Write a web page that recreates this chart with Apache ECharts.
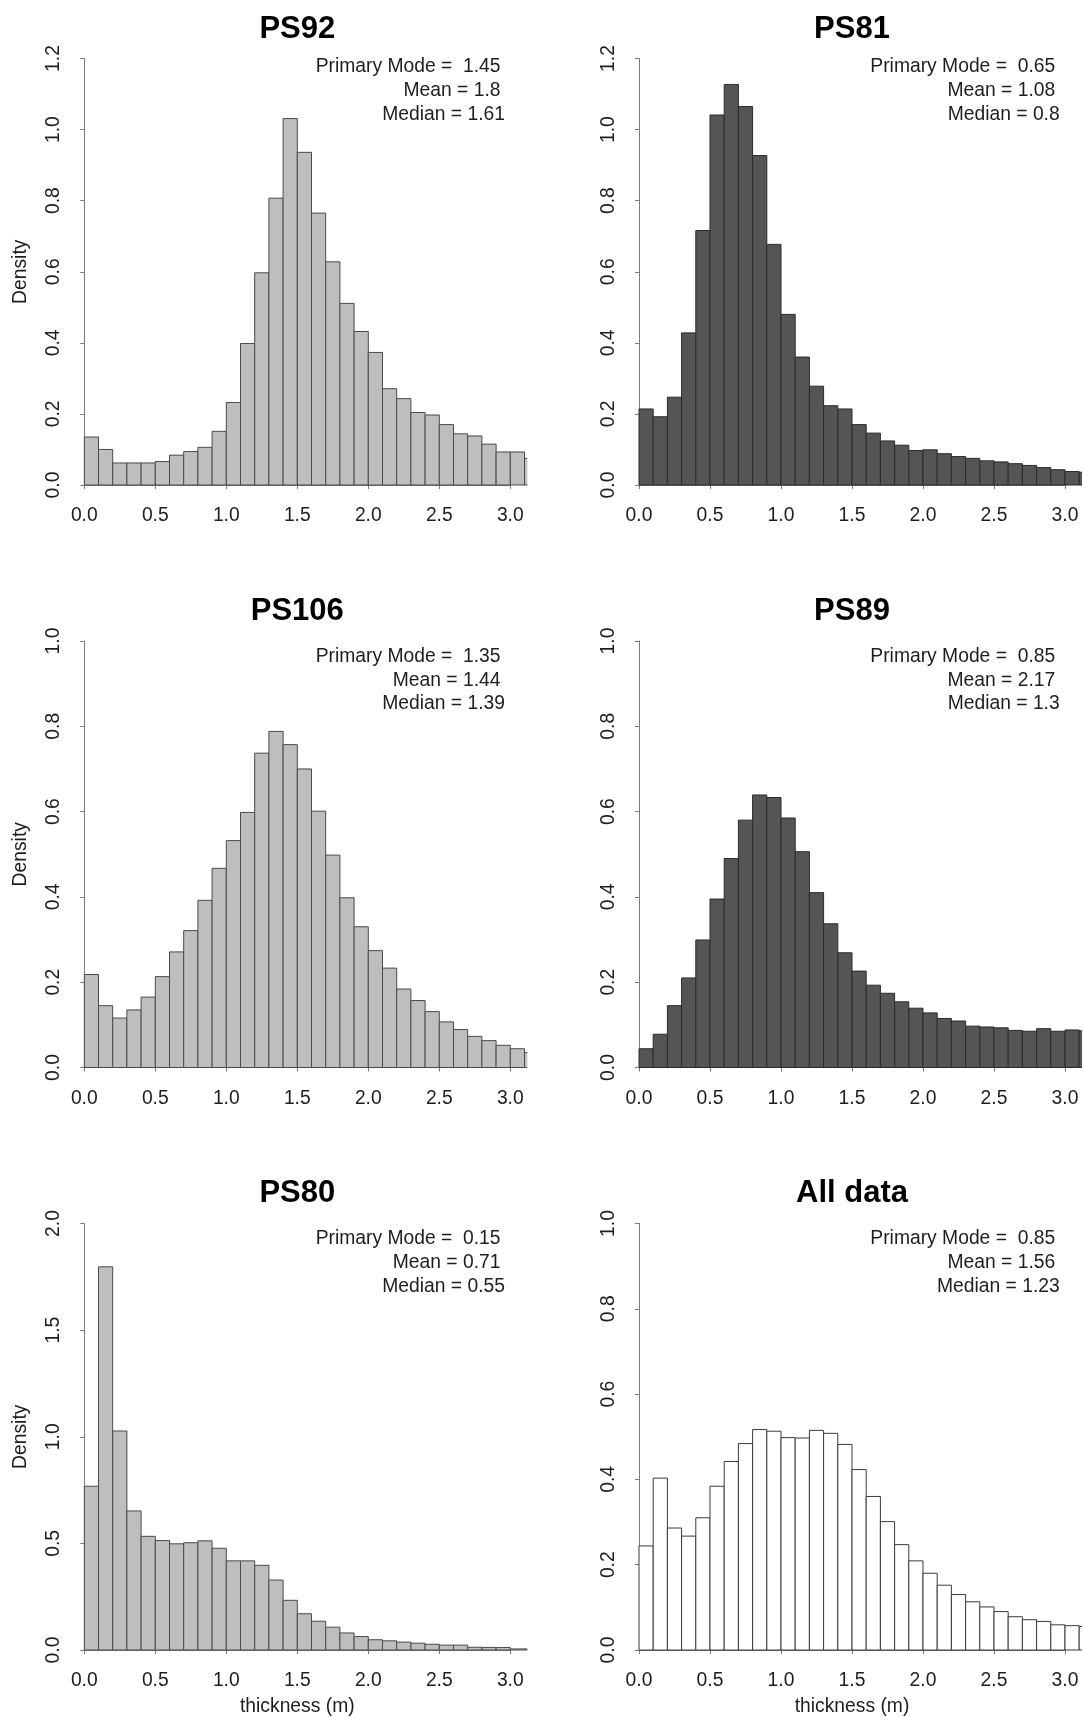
<!DOCTYPE html>
<html>
<head>
<meta charset="utf-8">
<script src="https://cdn.jsdelivr.net/npm/echarts@6/dist/echarts.min.js"></script>
<style>
html,body{margin:0;padding:0;background:#ffffff;}
#chart{width:1084px;height:1717px;}
</style>
</head>
<body>
<div id="chart"></div>
<script>
// ---------------- data ----------------
const panelTitles  = ['PS92', 'PS81', 'PS106', 'PS89', 'PS80', 'All data'];
const primaryModes = ['1.45', '0.65', '1.35', '0.85', '0.15', '0.85'];
const meanValues   = ['1.8', '1.08', '1.44', '2.17', '0.71', '1.56'];
const medianValues = ['1.61', '0.8', '1.39', '1.3', '0.55', '1.23'];

// histogram bin edges (thickness, m)
const binEdges = [0.0, 0.1, 0.2, 0.3, 0.4, 0.5, 0.6, 0.7, 0.8, 0.9,
                  1.0, 1.1, 1.2, 1.3, 1.4, 1.5, 1.6, 1.7, 1.8, 1.9,
                  2.0, 2.1, 2.2, 2.3, 2.4, 2.5, 2.6, 2.7, 2.8, 2.9,
                  3.0, 3.1, 3.2];

// densities per bin
const densityPS92 = [0.135, 0.100, 0.062, 0.062, 0.062, 0.066, 0.084, 0.094, 0.106, 0.151,
                     0.232, 0.398, 0.597, 0.807, 1.031, 0.936, 0.765, 0.628, 0.511, 0.432,
                     0.373, 0.271, 0.243, 0.204, 0.197, 0.170, 0.144, 0.138, 0.115, 0.093,
                     0.093, 0.075];
const densityPS81 = [0.214, 0.192, 0.247, 0.428, 0.716, 1.041, 1.127, 1.065, 0.927, 0.677,
                     0.480, 0.360, 0.278, 0.223, 0.214, 0.170, 0.146, 0.124, 0.112, 0.097,
                     0.099, 0.088, 0.080, 0.075, 0.068, 0.065, 0.060, 0.055, 0.049, 0.043,
                     0.038, 0.036];
const densityPS106 = [0.218, 0.145, 0.116, 0.135, 0.165, 0.213, 0.271, 0.321, 0.392, 0.467,
                      0.532, 0.598, 0.737, 0.788, 0.757, 0.700, 0.601, 0.498, 0.398, 0.330,
                      0.274, 0.233, 0.184, 0.157, 0.131, 0.107, 0.089, 0.073, 0.063, 0.052,
                      0.044, 0.035];
const densityPS89 = [0.044, 0.078, 0.145, 0.210, 0.299, 0.395, 0.490, 0.580, 0.639, 0.633,
                     0.585, 0.506, 0.410, 0.337, 0.269, 0.226, 0.193, 0.174, 0.154, 0.139,
                     0.128, 0.115, 0.109, 0.097, 0.095, 0.093, 0.087, 0.085, 0.091, 0.085,
                     0.088, 0.086];
const densityPS80 = [0.768, 1.797, 1.027, 0.652, 0.533, 0.513, 0.498, 0.503, 0.512, 0.477,
                     0.418, 0.418, 0.397, 0.328, 0.233, 0.170, 0.135, 0.107, 0.080, 0.063,
                     0.048, 0.043, 0.037, 0.032, 0.027, 0.023, 0.023, 0.013, 0.012, 0.012,
                     0.005, 0.005];
const densityAll = [0.244, 0.403, 0.286, 0.267, 0.310, 0.384, 0.442, 0.484, 0.517, 0.513,
                    0.498, 0.497, 0.515, 0.508, 0.482, 0.423, 0.360, 0.301, 0.247, 0.209,
                    0.180, 0.152, 0.130, 0.113, 0.101, 0.090, 0.078, 0.071, 0.067, 0.059,
                    0.057, 0.055];
const panelDensities = [densityPS92, densityPS81, densityPS106, densityPS89, densityPS80, densityAll];

// axis scales
const xAxisMin = 0, xAxisMax = 3, xAxisStep = 0.5;
const yAxisMax  = [1.2, 1.2, 1.0, 1.0, 2.0, 1.0];
const yAxisStep = [0.2, 0.2, 0.2, 0.2, 0.5, 0.2];
const yAxisTitle = 'Density';
const xAxisTitle = 'thickness (m)';

// ---------------- styles / layout ----------------
const FONT = '"Liberation Sans", Arial, Helvetica, sans-serif';
const barFill   = ['#bebebe', '#555555', '#bebebe', '#555555', '#bebebe', '#ffffff'];
const barStroke = ['#4a4a4a', '#2b2b2b', '#4a4a4a', '#2b2b2b', '#4a4a4a', '#3a3a3a'];
const colX0 = [84.3, 639.0];          // pixel of x = 0
const rowTop = [58.5, 641.0, 1223.5]; // pixel of y = ymax
const plotW = 426, plotH = 426.5;
const AXIS_OFFSET = 17;
const XCLIP = 3.12;
const annotOffset = [8.2, 15.5, 15.2];
const titleOffset = [-29.2, -29.8, -29.8];
const annotStep = 23.8;
const AXIS_COLOR = '#7a7a7a';
const LABEL_COLOR = '#1e1e1e';
const FS = 19.3;

const grids = [], xAxes = [], yAxes = [], series = [], graphics = [];

for (let i = 0; i < 6; i++) {
  const col = i % 2, row = Math.floor(i / 2);
  const left = colX0[col], top = rowTop[row];
  grids.push({ left: left, top: top, width: plotW, height: plotH, outerBoundsMode: 'none', containLabel: false });
  xAxes.push({
    type: 'value', gridIndex: i, min: xAxisMin, max: xAxisMax, interval: xAxisStep,
    offset: AXIS_OFFSET,
    axisLine: { show: true, lineStyle: { color: AXIS_COLOR, width: 1 } },
    axisTick: { show: true, length: 4, lineStyle: { color: AXIS_COLOR, width: 1 } },
    axisLabel: { show: true, margin: 4.5, color: LABEL_COLOR, fontSize: FS, fontFamily: FONT,
                 formatter: v => v.toFixed(1), showMinLabel: true, showMaxLabel: true },
    splitLine: { show: false }
  });
  yAxes.push({
    type: 'value', gridIndex: i, min: 0, max: yAxisMax[i], interval: yAxisStep[i],
    offset: AXIS_OFFSET,
    axisLine: { show: true, lineStyle: { color: AXIS_COLOR, width: 1 } },
    axisTick: { show: true, length: 4, lineStyle: { color: AXIS_COLOR, width: 1 } },
    axisLabel: { show: true, margin: 4, rotate: 90, color: LABEL_COLOR, fontSize: FS, fontFamily: FONT,
                 formatter: v => v.toFixed(1), showMinLabel: true, showMaxLabel: true },
    splitLine: { show: false }
  });

  const vals = panelDensities[i];
  const data = vals.map((d, k) => [binEdges[k], binEdges[k + 1], d]);
  const fill = barFill[i], stroke = barStroke[i];
  series.push({
    type: 'custom', xAxisIndex: i, yAxisIndex: i, data: data, clip: false, silent: true,
    renderItem: function (params, api) {
      const x0 = api.value(0), x1 = api.value(1), y = api.value(2);
      if (x0 >= XCLIP) return null;
      const clipped = x1 > XCLIP;
      const pb = api.coord([x0, 0]);
      const pt = api.coord([clipped ? XCLIP : x1, y]);
      const w = pt[0] - pb[0], h = pb[1] - pt[1];
      if (!clipped) {
        return { type: 'rect', shape: { x: pb[0], y: pt[1], width: w, height: h },
                 style: { fill: fill, stroke: stroke, lineWidth: 1 } };
      }
      return { type: 'group', children: [
        { type: 'rect', shape: { x: pb[0], y: pt[1], width: w, height: h }, style: { fill: fill, stroke: null } },
        { type: 'polyline', shape: { points: [[pt[0], pb[1]], [pb[0], pb[1]], [pb[0], pt[1]], [pt[0], pt[1]]] },
          style: { fill: null, stroke: stroke, lineWidth: 1 } }
      ]};
    }
  });

  // title
  graphics.push({ type: 'text', x: left + plotW / 2, y: top + titleOffset[row], silent: true,
    style: { text: panelTitles[i], fontSize: 31, fontWeight: 'bold', fontFamily: FONT, fill: '#000',
             align: 'center', verticalAlign: 'middle', textAlign: 'center', textVerticalAlign: 'middle' } });
  // annotation
  const lines = ['Primary Mode =  ' + primaryModes[i], 'Mean = ' + meanValues[i], 'Median = ' + medianValues[i]];
  const rightEdge = [left + plotW - 9.8, left + plotW - 9.8, left + plotW - 5.3];
  lines.forEach((t, k) => {
    graphics.push({ type: 'text', x: rightEdge[k], y: top + annotOffset[row] + k * annotStep, silent: true,
      style: { text: t, fontSize: FS, fontFamily: FONT, fill: LABEL_COLOR,
               align: 'right', verticalAlign: 'middle', textAlign: 'right', textVerticalAlign: 'middle' } });
  });
  if (col === 0) {
    graphics.push({ type: 'text', x: 20.7, y: top + plotH / 2, rotation: Math.PI / 2, silent: true,
      style: { text: yAxisTitle, fontSize: FS, fontFamily: FONT, fill: LABEL_COLOR,
               align: 'center', verticalAlign: 'middle', textAlign: 'center', textVerticalAlign: 'middle' } });
  }
  if (row === 2) {
    graphics.push({ type: 'text', x: left + plotW / 2, y: 1706.5, silent: true,
      style: { text: xAxisTitle, fontSize: FS, fontFamily: FONT, fill: LABEL_COLOR,
               align: 'center', verticalAlign: 'middle', textAlign: 'center', textVerticalAlign: 'middle' } });
  }
}

const chart = echarts.init(document.getElementById('chart'), null, { renderer: 'canvas', width: 1084, height: 1717 });
chart.setOption({
  backgroundColor: '#ffffff',
  animation: false,
  grid: grids,
  xAxis: xAxes,
  yAxis: yAxes,
  series: series,
  graphic: graphics
});
</script>
</body>
</html>
